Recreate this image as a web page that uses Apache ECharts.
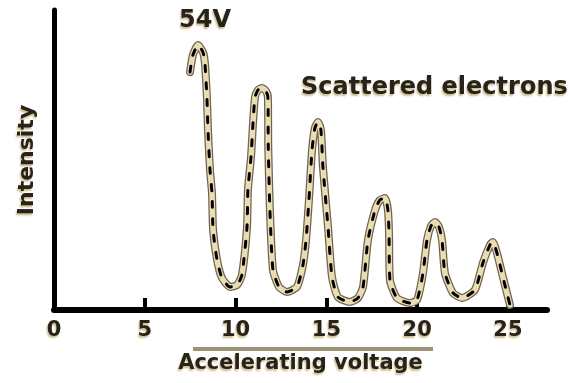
<!DOCTYPE html>
<html>
<head>
<meta charset="utf-8">
<script src="https://cdn.jsdelivr.net/npm/echarts@6/dist/echarts.min.js"></script>
<style>
  html, body { margin: 0; padding: 0; background: #fff; }
  #chart { width: 573px; height: 383px; }
</style>
</head>
<body>
<div id="chart"></div>
<script>
// Accelerating voltage (x) and scattered-electron intensity (y) along the curve
const voltage = [
  7.49, 7.65, 7.93, 8.20, 8.31, 8.42, 8.48, 8.59, 8.70, 8.76, 8.98, 9.25, 9.69, 10.08,
  10.35, 10.63, 10.68, 10.85, 10.96, 11.07, 11.23, 11.45, 11.67, 11.78, 11.80, 11.89,
  12.06, 12.39, 12.83, 13.38, 13.71, 13.88, 14.04, 14.21, 14.37, 14.54, 14.70, 14.81,
  15.09, 15.31, 15.64, 16.30, 16.74, 17.02, 17.29, 17.68, 17.95, 18.23, 18.39, 18.45,
  18.50, 18.89, 19.60, 19.99, 20.32, 20.54, 20.76, 20.98, 21.20, 21.37, 21.53, 21.97,
  22.47, 23.18, 23.62, 24.01, 24.17, 24.45, 24.72, 25.00, 25.11
];
const intensity = [
  79.3, 85.0, 88.3, 86.0, 82.3, 71.0, 60.0, 46.7, 39.0, 26.7, 16.7, 10.7, 7.7, 8.3,
  11.7, 27.7, 40.0, 51.0, 62.3, 71.0, 73.3, 74.0, 73.0, 71.0, 54.3, 33.3,
  13.3, 7.7, 6.0, 7.7, 15.0, 23.3, 36.7, 53.3, 60.7, 62.7, 60.0, 47.7,
  27.7, 11.0, 4.3, 2.7, 4.0, 7.7, 23.3, 33.3, 36.7, 37.3, 33.3, 25.7,
  10.0, 4.0, 2.3, 3.3, 12.3, 23.3, 28.0, 29.3, 27.7, 23.3, 12.3, 5.7,
  4.0, 6.7, 15.7, 21.7, 22.7, 17.7, 11.0, 4.3, 1.7
];
const tickLabels = [0, 5, 10, 15, 20, 25];
const tickMarks = [5, 10, 15, 20, 25];

const peakLabel = '54V';
const curveLabel = 'Scattered electrons';
const xTitle = 'Accelerating voltage';
const yTitle = 'Intensity';

const points = voltage.map((v, i) => [v, intensity[i]]);

const font = 'DejaVu Sans, Verdana, sans-serif';
const ink = '#27231a';
const glow = '#cdbb8c';

// dark bold lettering with a warm offset halo
const textStyle = {
  fontFamily: font,
  fontWeight: 'bold',
  color: ink,
  textShadowColor: glow,
  textShadowOffsetX: -1,
  textShadowOffsetY: 2,
  textShadowBlur: 2
};
const graphicText = (text, size) => ({
  text: text,
  fontFamily: font,
  fontWeight: 'bold',
  fontSize: size,
  fill: ink,
  textShadowColor: glow,
  textShadowOffsetX: -1,
  textShadowOffsetY: 2,
  textShadowBlur: 2,
  shadowColor: glow,
  shadowOffsetX: -1,
  shadowOffsetY: 2,
  shadowBlur: 2
});

const chart = echarts.init(document.getElementById('chart'), null, { renderer: 'canvas' });

const curveSeries = (width, color, type, z) => ({
  type: 'line',
  data: points,
  smooth: 0.2,
  showSymbol: false,
  silent: true,
  z: z,
  lineStyle: { width: width, color: color, type: type, cap: 'round', join: 'round' }
});

chart.setOption({
  animation: false,
  backgroundColor: '#ffffff',
  grid: { left: 54, right: 26, top: 10, bottom: 73 },
  xAxis: {
    type: 'value',
    min: 0,
    max: 27.15,
    name: xTitle,
    nameLocation: 'middle',
    nameGap: 43,
    nameTextStyle: Object.assign({}, textStyle, { fontSize: 21 }),
    axisLine: { show: true, lineStyle: { color: '#000', width: 6 } },
    axisTick: {
      show: true, inside: true, length: 12, customValues: tickMarks,
      lineStyle: { color: '#000', width: 4 }
    },
    axisLabel: Object.assign({}, textStyle, {
      fontSize: 21, margin: 10, customValues: tickLabels
    }),
    splitLine: { show: false }
  },
  yAxis: {
    type: 'value',
    min: 0,
    max: 100,
    name: yTitle,
    nameLocation: 'middle',
    nameRotate: 90,
    nameGap: 16,
    nameTextStyle: Object.assign({}, textStyle, { fontSize: 22 }),
    axisLine: { show: true, lineStyle: { color: '#000', width: 5 } },
    axisTick: { show: false },
    axisLabel: { show: false },
    splitLine: { show: false }
  },
  series: [
    curveSeries(8, '#6f6650', 'solid', 2),
    curveSeries(5.5, '#ebdcb4', 'solid', 3),
    curveSeries(3, '#000000', [6, 11], 4)
  ],
  graphic: [
    {
      type: 'text', left: 179, top: 9, silent: true,
      style: graphicText(peakLabel, 24)
    },
    {
      type: 'text', left: 301, top: 76, silent: true,
      style: graphicText(curveLabel, 24)
    },
    {
      type: 'line', silent: true,
      shape: { x1: 193, y1: 349, x2: 433, y2: 349 },
      style: { stroke: '#9c9277', lineWidth: 4 }
    }
  ]
});
</script>
</body>
</html>
